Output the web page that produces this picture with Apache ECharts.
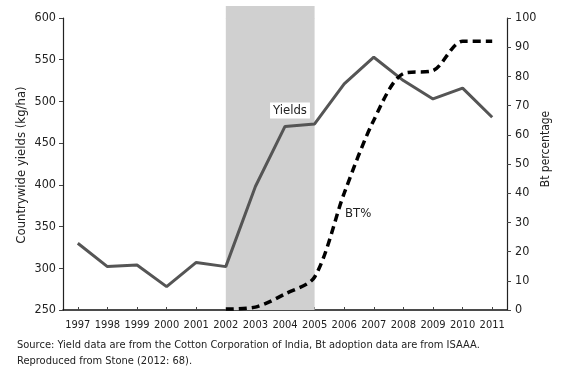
<!DOCTYPE html>
<html><head><meta charset="utf-8">
<script src="https://cdn.jsdelivr.net/npm/echarts@6/dist/echarts.min.js"></script>
<style>html,body{margin:0;padding:0;background:#fff}#c{width:568px;height:378px}</style>
</head><body><div id="c"></div>
<script>
var years = ['1997','1998','1999','2000','2001','2002','2003','2004','2005','2006','2007','2008','2009','2010','2011'];
var yields = [330, 302, 304, 278, 307, 302, 398, 470, 473, 521, 553, 525, 503, 516, 481];
var btPct = [null, null, null, null, null, 0.3, 1, 5.5, 11.3, 40, 65, 81, 82, 92, 92];
var shadeFrom = '2002', shadeTo = '2005';
var yieldTicks = [250, 600, 50];
var btTicks = [0, 100, 10];
var FONT = '"DejaVu Sans Condensed", sans-serif';
var chart = echarts.init(document.getElementById('c'));
chart.setOption({
  animation: false,
  textStyle: {fontFamily: FONT},
  grid: {left: 63, right: 61, top: 18, bottom: 68},
  xAxis: {
    type: 'category', data: years, boundaryGap: true,
    axisLine: {lineStyle: {color: '#111', width: 1.5}},
    axisTick: {show: true, alignWithLabel: true, inside: true, length: 3, lineStyle: {color: '#444'}},
    axisLabel: {color: '#222', fontSize: 11, margin: 10, fontFamily: FONT, interval: 0}
  },
  yAxis: [{
    type: 'value', min: yieldTicks[0], max: yieldTicks[1], interval: yieldTicks[2],
    axisLine: {show: true, lineStyle: {color: '#222', width: 1.2}},
    axisTick: {show: true, length: 4, lineStyle: {color: '#444'}},
    axisLabel: {color: '#222', fontSize: 12.5, margin: 7, fontFamily: FONT},
    splitLine: {show: false}
  }, {
    type: 'value', min: btTicks[0], max: btTicks[1], interval: btTicks[2], position: 'right',
    axisLine: {show: true, lineStyle: {color: '#222', width: 1.2}},
    axisTick: {show: true, length: 4, lineStyle: {color: '#444'}},
    axisLabel: {color: '#222', fontSize: 12.5, margin: 8, fontFamily: FONT},
    splitLine: {show: false}
  }],
  series: [{
    name: 'Yields', type: 'line', yAxisIndex: 0, data: yields,
    symbol: 'none', lineStyle: {color: '#555', width: 3}, z: 3,
    markArea: {silent: true, itemStyle: {color: '#d0d0d0'}, data: [[{xAxis: shadeFrom}, {xAxis: shadeTo}]]},
    markPoint: {
      symbol: 'rect', symbolSize: [1, 1], itemStyle: {color: 'transparent'},
      data: [{coord: ['2004', 489], value: 'Yields'}],
      label: {show: true, position: 'inside', offset: [5, 0], formatter: 'Yields', color: '#222', fontSize: 13,
        fontFamily: FONT, backgroundColor: '#fff', padding: [2, 3, 1, 3]}
    }
  }, {
    name: 'BT%', type: 'line', yAxisIndex: 1, data: btPct, smooth: 0.3,
    symbol: 'none', lineStyle: {color: '#000', width: 3.5, type: [8, 5]}, z: 4,
    markPoint: {
      symbol: 'rect', symbolSize: [1, 1], itemStyle: {color: 'transparent'},
      data: [{coord: ['2006', 33], value: 'BT%'}],
      label: {show: true, position: 'inside', offset: [14, 0], formatter: 'BT%', color: '#222', fontSize: 13, fontFamily: FONT}
    }
  }]
});
var x0 = chart.convertToPixel({xAxisIndex: 0}, shadeFrom);
var x1 = chart.convertToPixel({xAxisIndex: 0}, shadeTo);
var yTop = chart.convertToPixel({yAxisIndex: 0}, yieldTicks[1]);
chart.setOption({
  graphic: [{
    type: 'rect', shape: {x: x0, y: 6, width: x1 - x0, height: yTop - 6 + 0.5}, style: {fill: '#d0d0d0'}, z: -1, silent: true
  }, {
    type: 'text', x: 22, y: 165, rotation: Math.PI / 2,
    style: {text: 'Countrywide yields (kg/ha)', font: '13px ' + FONT, fill: '#222', align: 'center', verticalAlign: 'middle'}
  }, {
    type: 'text', x: 546, y: 149, rotation: Math.PI / 2,
    style: {text: 'Bt percentage', font: '12px ' + FONT, fill: '#222', align: 'center', verticalAlign: 'middle'}
  }, {
    type: 'text', left: 17, top: 337,
    style: {text: 'Source: Yield data are from the Cotton Corporation of India, Bt adoption data are from ISAAA.\nReproduced from Stone (2012: 68).',
      font: '11px ' + FONT, fill: '#222', lineHeight: 16}
  }]
});
</script></body></html>
